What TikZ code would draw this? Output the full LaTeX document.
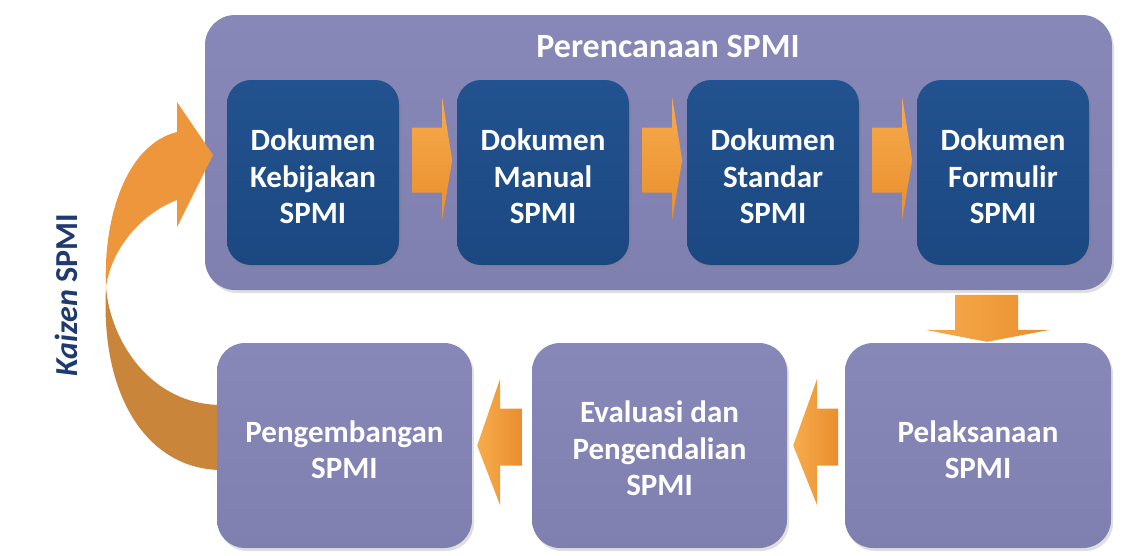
\documentclass[tikz,border=0pt]{standalone}
\usepackage{fontspec}
\setmainfont{Carlito}
\usetikzlibrary{shadows}
\definecolor{panel}{HTML}{7F7FB0}
\definecolor{panellight}{HTML}{8787B8}
\definecolor{docblue}{HTML}{1B4881}
\definecolor{docbluelight}{HTML}{22528F}
\definecolor{orangeA}{HTML}{F7AC4C}
\definecolor{orangeB}{HTML}{E98E2E}
\definecolor{curveup}{HTML}{EE963C}
\definecolor{curvedown}{HTML}{C9853A}
\definecolor{navy}{HTML}{1F3A6E}
\begin{document}
\begin{tikzpicture}[x=1pt,y=-1pt,
  lbl/.style={text=white,font=\bfseries\fontsize{31}{36.5}\selectfont,align=center},
  panelbox/.style={draw=none,rounded corners=30pt,top color=panellight,bottom color=panel,
     drop shadow={shadow xshift=2pt,shadow yshift=-3pt,opacity=0.25}},
  docbox/.style={draw=none,rounded corners=24pt,top color=docbluelight,bottom color=docblue,
     minimum width=172pt,minimum height=185pt,
     drop shadow={shadow xshift=2pt,shadow yshift=-3pt,opacity=0.3}},
  stagebox/.style={panelbox,rounded corners=28pt,minimum height=205pt},
  blockarrow/.style={draw=none,top color=orangeA,bottom color=orangeB},
  hblockarrow/.style={draw=none,left color=orangeA,right color=orangeB}]
\useasboundingbox (0,0) rectangle (1129,555);

% lower part of the Kaizen curved arrow (behind the boxes)
\fill[curvedown] (106,287) .. controls (100,400) and (150,470) .. (222,470)
   -- (222,405) .. controls (150,405) and (110,340) .. (106,287) -- cycle;

% container
\node[panelbox,minimum width=907pt,minimum height=275pt] (plan) at (658.5,152.5) {};
\node[lbl,font=\bfseries\fontsize{34}{40}\selectfont] (title) at (668,46) {Perencanaan SPMI};

% document boxes
\node[docbox] (d1) at (313,172.5) {};
\node[docbox] (d2) at (543,172.5) {};
\node[docbox] (d3) at (773,172.5) {};
\node[docbox] (d4) at (1003,172.5) {};
\node[lbl] (t1) at ([yshift=-4pt]d1.center) {Dokumen\\Kebijakan\\SPMI};
\node[lbl] (t2) at ([yshift=-4pt]d2.center) {Dokumen\\Manual\\SPMI};
\node[lbl] (t3) at ([yshift=-4pt]d3.center) {Dokumen\\Standar\\SPMI};
\node[lbl] (t4) at ([yshift=-4pt]d4.center) {Dokumen\\Formulir\\SPMI};

% right arrows between document boxes
\foreach \a in {d1,d2,d3}{
  \path[blockarrow,shift={(\a.east)}] (13,-45) -- (43,-45) -- (43,-75) -- (53,-12)
     -- (43,47) -- (43,20) -- (13,20) -- cycle;
}

% bottom stage boxes
\node[stagebox,minimum width=255pt] (dev) at (344.5,445.5) {};
\node[stagebox,minimum width=255pt] (eval) at (659.5,445.5) {};
\node[stagebox,minimum width=266pt] (exec) at (978,445.5) {};
\node[lbl] (tdev) at ([yshift=-4pt]dev.center) {Pengembangan\\SPMI};
\node[lbl] (teval) at ([yshift=-3pt]eval.center) {Evaluasi dan\\Pengendalian\\SPMI};
\node[lbl] (texec) at ([yshift=-4pt]exec.center) {Pelaksanaan\\SPMI};

% down arrow into Pelaksanaan
\path[hblockarrow,shift={(exec.north)}] (-23,-48) -- (40,-48) -- (40,-13) -- (72,-13)
   -- (9,-1) -- (-53,-13) -- (-23,-13) -- cycle;

% left arrows
\path[hblockarrow,shift={(eval.east)}] (6,0) -- (30,-67) -- (30,-37) -- (51,-37)
   -- (51,20) -- (30,20) -- (30,60) -- cycle;
\path[hblockarrow,shift={(dev.east)}] (5,0) -- (28,-67) -- (28,-37) -- (50,-37)
   -- (50,20) -- (28,20) -- (28,60) -- cycle;

% upper part of the Kaizen curved arrow with head
\fill[curveup] (106,287) .. controls (103,220) and (125,145) .. (177,132)
   -- (177,102) -- (213,155) -- (177,227) -- (177,200)
   .. controls (145,212) and (112,245) .. (106,287) -- cycle;

\node[text=navy,font=\bfseries\fontsize{32}{37}\selectfont,rotate=90,anchor=base] (kaizen)
   at (77,295) {\textit{Kaizen} SPMI};
\end{tikzpicture}
\end{document}
